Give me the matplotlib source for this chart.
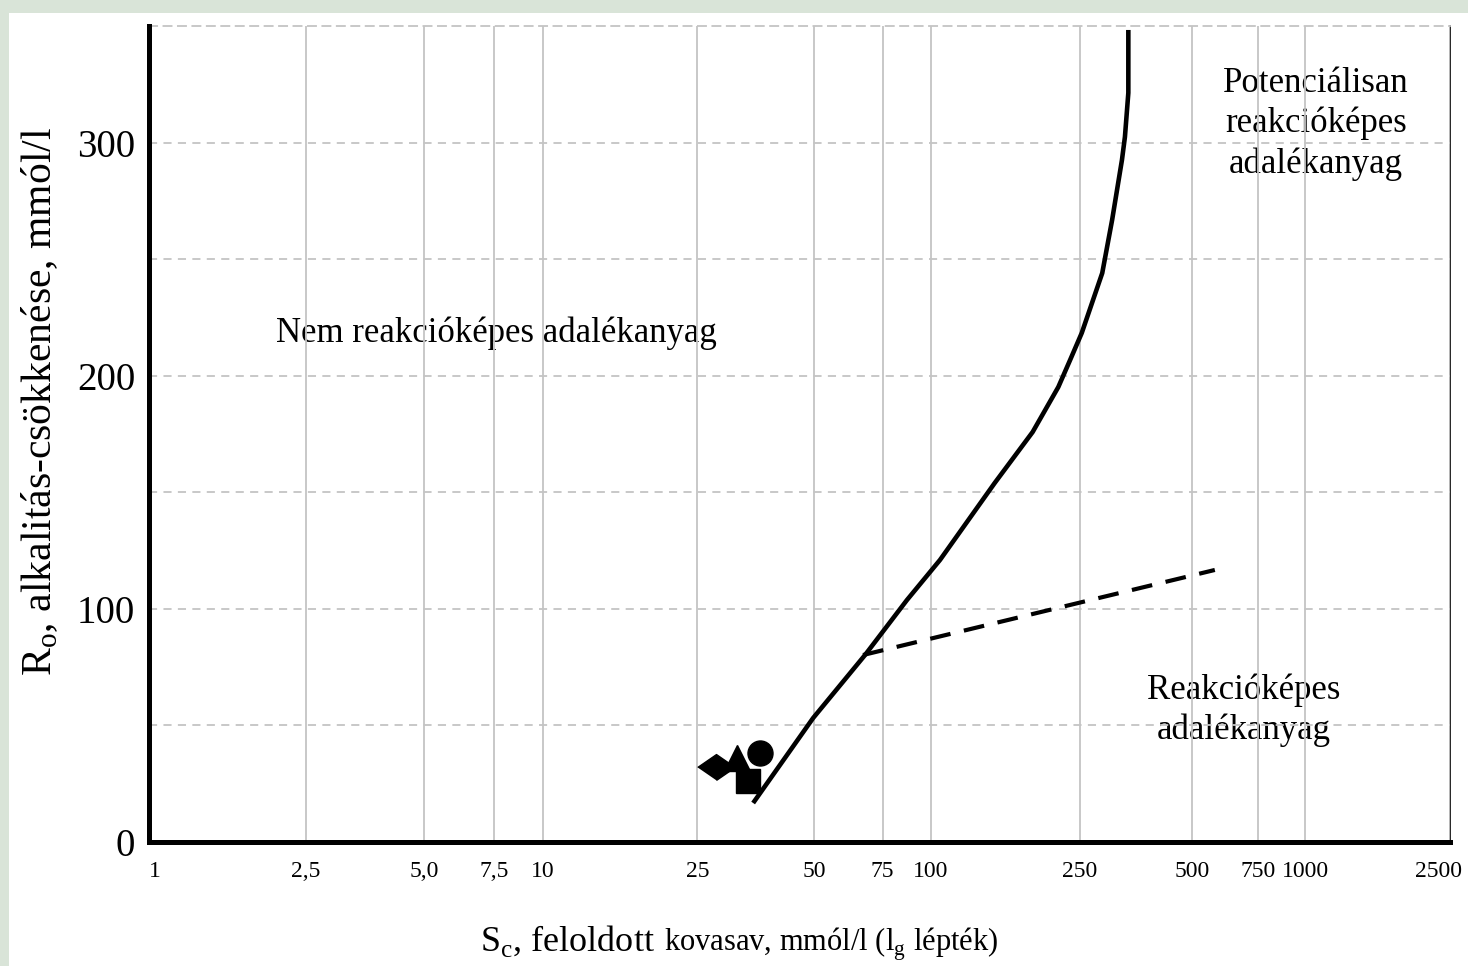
import numpy as np
import matplotlib
matplotlib.use("Agg")
import matplotlib.pyplot as plt
from matplotlib.patches import Rectangle
from matplotlib.transforms import ScaledTranslation
from matplotlib.offsetbox import TextArea, HPacker, AnnotationBbox

plt.rcParams['font.family'] = ['Liberation Serif', 'DejaVu Serif']
plt.rcParams['mathtext.fontset'] = 'custom'
plt.rcParams['mathtext.rm'] = 'Liberation Serif'

# boundary curve (solid) and the secondary dashed boundary
curve_x = [34.8, 49.7, 67.6, 86.7, 105.7, 148, 187, 219, 235.5, 253, 287, 305, 324, 330, 337, 337]
curve_y = [16.6, 53.1, 80.1, 103.7, 120.9, 153.9, 175.8, 195.1, 206.7, 218.3, 244.0, 266.8, 292.5, 302.4, 321.3, 348.3]
dash_x = [66.8, 574]
dash_y = [80.1, 116.6]

# sample points
diamond_pt = (28.0, 32.1)
triangle_pt = (31.6, 36.1)
square_pt = (33.8, 26.1)
circle_pt = (36.2, 38.1)

xticks = [1, 2.5, 5, 7.5, 10, 25, 50, 75, 100, 250, 500, 750, 1000, 2500]
xtick_labels = ['1', '2,5', '5,0', '7,5', '10', '25', '50', '75', '100', '250', '500', '750', '1000', '2500']
yticks = [0, 100, 200, 300]
yminor = [50, 150, 250]

# the printed axis is log-like, but each decade has a slightly different width
dec_log = [0, 1, 2, 3, np.log10(2500)]
dec_px = [0, 394, 782, 1156, 1301]

def fwd(x):
    return np.interp(np.log10(np.maximum(np.asarray(x, dtype=float), 1e-6)), dec_log, dec_px)

def inv(p):
    return 10 ** np.interp(p, dec_px, dec_log)


fig = plt.figure(figsize=(14.68, 9.66), dpi=100)
fig.patch.set_facecolor('#d9e4d8')
fig.add_artist(Rectangle((0.006, 0.0), 0.994, 0.987, transform=fig.transFigure,
                         facecolor='white', edgecolor='none', zorder=0))

ax = fig.add_axes([149 / 1468, 1 - 841.7 / 966, 1301 / 1468, 815.7 / 966])
ax.set_facecolor('white')
ax.set_xscale('function', functions=(fwd, inv))
ax.set_xlim(1, 2500)
ax.set_ylim(0, 350)

ax.set_xticks(xticks)
ax.set_xticklabels(xtick_labels)
ax.set_yticks(yticks)
ax.set_yticks(yminor, minor=True)
ax.tick_params(axis='both', which='both', length=0)
ax.tick_params(axis='x', labelsize=17, pad=14)
ax.tick_params(axis='y', labelsize=28, pad=10)

# first and last x labels sit slightly inside the plot edges
xlabs = ax.get_xticklabels()
xlabs[0].set_transform(xlabs[0].get_transform() + ScaledTranslation(0.06, 0, fig.dpi_scale_trans))
xlabs[-1].set_transform(xlabs[-1].get_transform() + ScaledTranslation(-0.11, 0, fig.dpi_scale_trans))

ax.grid(True, axis='x', color='#c4c4c4', lw=1.3, ls='-')
ax.grid(True, axis='y', which='both', color='#c4c4c4', lw=1.3, ls=(0, (4.5, 3.5)))
ax.set_axisbelow(False)

for s in ['left', 'bottom']:
    ax.spines[s].set_linewidth(3.6)
    ax.spines[s].set_zorder(4)
ax.spines['right'].set_linewidth(1.2)
ax.spines['top'].set_color('#c4c4c4')
ax.spines['top'].set_linewidth(1.3)
ax.spines['top'].set_linestyle((0, (4.5, 3.5)))

ax.plot(curve_x, curve_y, color='black', lw=3.3, solid_capstyle='butt',
        solid_joinstyle='round', zorder=3)
ax.plot(dash_x, dash_y, color='black', lw=3.0, dashes=(5, 3.3), zorder=3)

diamond = [(-1.45, 0), (0, 1), (1.45, 0), (0, -1)]
ax.plot(*diamond_pt, marker=diamond, ms=27, color='black', lw=0, zorder=3)
ax.plot(*triangle_pt, marker='^', ms=19, color='black', lw=0, zorder=3)
ax.plot(*square_pt, marker='s', ms=17, color='black', lw=0, zorder=3)
ax.plot(*circle_pt, marker='o', ms=18, color='black', lw=0, zorder=3)

ax.text(7.6, 218, 'Nem reakcióképes adalékanyag', fontsize=25,
        ha='center', va='center', zorder=2)
ax.text(1072, 308, 'Potenciálisan\nreakcióképes\nadalékanyag', fontsize=25,
        ha='center', va='center', linespacing=1.27, zorder=2)
ax.text(687, 56.5, 'Reakcióképes\nadalékanyag', fontsize=25,
        ha='center', va='center', linespacing=1.27, zorder=2)

ax.set_ylabel(r'R$_\mathregular{o}$, alkalitás-csökkenése, mmól/l', fontsize=30, va='center')
ax.yaxis.set_label_coords((40 - 149) / 1301, (841.7 - 401) / 815.7)

part1 = TextArea(r'S$_\mathregular{c}$, feloldott', textprops=dict(fontsize=26))
part2 = TextArea(r'kovasav, mmól/l (l$_\mathregular{g}$ lépték)', textprops=dict(fontsize=22))
xlab = HPacker(children=[part1, part2], align='baseline', pad=0, sep=6)
fig.add_artist(AnnotationBbox(xlab, (739 / 1468, 1 - 943 / 966), xycoords='figure fraction',
                              frameon=False, box_alignment=(0.5, 0.5)))

fig.savefig('out.png', dpi=100, facecolor=fig.get_facecolor())
